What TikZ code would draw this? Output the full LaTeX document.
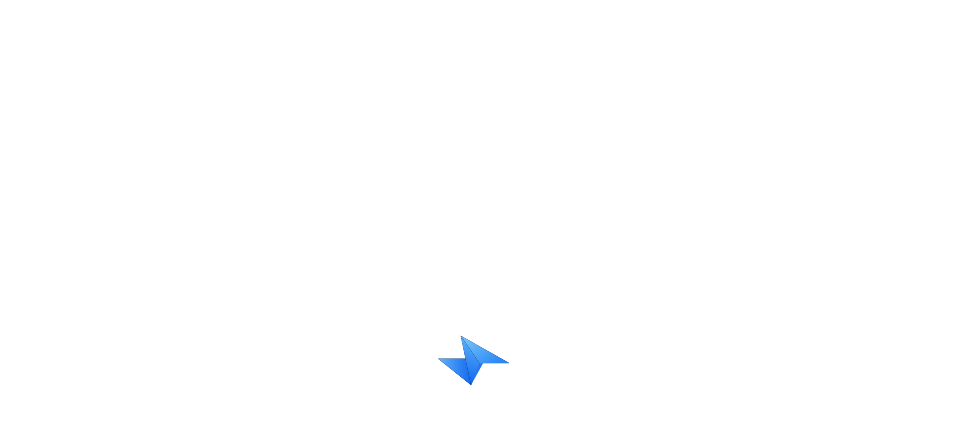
\documentclass[tikz,border=0pt]{standalone}
\begin{document}
\begin{tikzpicture}[x=0.75pt,y=-0.75pt]
\definecolor{blueL}{RGB}{110,190,250}
\definecolor{blueM}{RGB}{60,155,248}
\definecolor{blueD}{RGB}{20,105,240}
\useasboundingbox (0,0) rectangle (980,437);
\fill[white] (0,0) rectangle (980,437);
% left wing
\fill[left color=blueL!70!blueM,right color=blueD] (438,358.5) -- (465.5,358.5) -- (471,385) -- cycle;
% right wing
\fill[top color=blueL,bottom color=blueD!40!blueM,shading angle=35] (460.8,335.8) -- (509,363) -- (483,363.2) -- (479.5,363.5) -- cycle;
% centre facet
\fill[left color=blueL!60!blueM,right color=blueD,shading angle=-15] (460.8,335.8) -- (479.5,363.5) -- (471,385) -- cycle;
% lower sliver
\fill[blueD!70!blueM] (479.5,363.5) -- (483,363.2) -- (471,385) -- cycle;
\end{tikzpicture}
\end{document}
